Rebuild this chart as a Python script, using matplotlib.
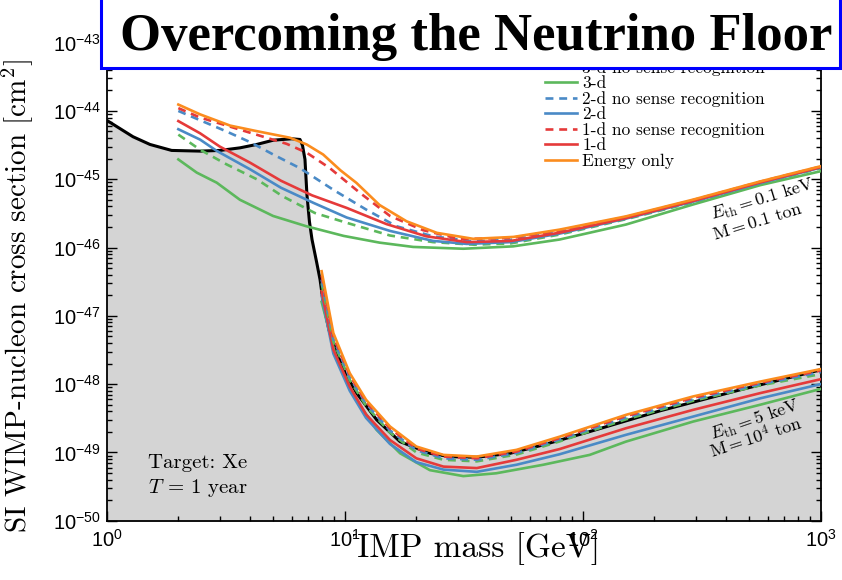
import numpy as np
import matplotlib.pyplot as plt
from matplotlib.patches import Rectangle
from matplotlib.lines import Line2D
from matplotlib.ticker import FuncFormatter, LogLocator, NullFormatter

# sans-serif tick numbers, Computer Modern everywhere else (via math_fontfamily='cm')
plt.rcParams['mathtext.fontset'] = 'custom'
plt.rcParams['mathtext.rm'] = 'Liberation Sans'
plt.rcParams['mathtext.it'] = 'Liberation Sans:italic'
plt.rcParams['mathtext.bf'] = 'Liberation Sans:bold'
plt.rcParams['font.family'] = 'Liberation Sans'

# neutrino floor (black line, grey region below it)
floor_mass = [1.0, 1.29, 1.52, 1.875, 2.47, 2.99, 3.63, 4.27, 5.01, 5.99, 6.49, 6.65, 6.81,
              6.94, 7.11, 7.29, 7.63, 7.88, 8.13, 8.59, 9.25, 10.13, 11.23, 13.63, 17.08,
              22.8, 27.7, 35.9, 49.5, 68.3, 107, 211, 458, 1000]
floor_sigma = [7.3e-45, 4.19e-45, 3.23e-45, 2.64e-45, 2.58e-45, 2.64e-45, 2.88e-45, 3.23e-45,
               3.73e-45, 3.91e-45, 3.82e-45, 3.12e-45, 1.95e-45, 5.97e-46, 2.4e-46, 1.31e-46,
               6.0e-47, 3.39e-47, 1.54e-47, 6.25e-48, 2.85e-48, 1.37e-48, 7.38e-49, 3.0e-49,
               1.44e-49, 9.7e-50, 8.67e-50, 8.5e-50, 9.7e-50, 1.29e-49, 2.02e-49, 4.06e-49,
               8.24e-49, 1.62e-48]

# E_th = 0.1 keV, M = 0.1 ton
hi_energy_m = [2.0, 2.47, 3.3, 4.27, 5.89, 6.92, 8.12, 9.6, 11.2, 14.0, 18.2, 24.4, 34.7, 51.2,
               80, 152, 291, 558, 1000]
hi_energy_s = [1.24e-44, 8.9e-45, 6.1e-45, 5.06e-45, 4.05e-45, 3.23e-45, 2.3e-45, 1.35e-45,
               8.85e-46, 4.2e-46, 2.42e-46, 1.64e-46, 1.34e-46, 1.43e-46, 1.83e-46, 2.86e-46,
               5.03e-46, 9.3e-46, 1.55e-45]
hi_1d_ns_m = [2.0, 2.47, 4.0, 5.7, 6.92, 8.67, 11.6, 15.5, 21.3, 30.5, 50, 80, 152, 291, 558, 1000]
hi_1d_ns_s = [1.1e-44, 8.0e-45, 4.8e-45, 3.3e-45, 2.45e-45, 1.45e-45, 6.3e-46, 2.9e-46, 1.8e-46,
              1.33e-46, 1.38e-46, 1.78e-46, 2.8e-46, 4.95e-46, 9.2e-46, 1.53e-45]
hi_1d_m = [2.0, 2.47, 2.99, 4.0, 5.4, 7.3, 10.2, 15.0, 22.0, 32.6, 50, 80, 152, 291, 558, 1000]
hi_1d_s = [7.1e-45, 4.7e-45, 3.0e-45, 1.75e-45, 9.5e-46, 5.8e-46, 3.8e-46, 2.2e-46, 1.46e-46,
           1.2e-46, 1.25e-46, 1.65e-46, 2.7e-46, 4.8e-46, 9.0e-46, 1.5e-45]
hi_2d_ns_m = [2.0, 2.47, 3.19, 4.0, 5.01, 6.49, 8.96, 12.3, 16.5, 23.5, 34.7, 50, 80, 152, 291,
              558, 1000]
hi_2d_ns_s = [1.0e-44, 7.3e-45, 5.0e-45, 3.5e-45, 2.3e-45, 1.45e-45, 7.0e-46, 3.6e-46, 2.05e-46,
              1.46e-46, 1.23e-46, 1.3e-46, 1.7e-46, 2.75e-46, 4.85e-46, 9.0e-46, 1.5e-45]
hi_2d_m = [2.0, 2.47, 2.9, 4.0, 5.4, 7.4, 10.2, 15.5, 23.5, 32.6, 50, 80, 152, 291, 558, 1000]
hi_2d_s = [5.4e-45, 3.8e-45, 2.6e-45, 1.4e-45, 7.5e-46, 4.5e-46, 2.75e-46, 1.75e-46, 1.25e-46,
           1.13e-46, 1.2e-46, 1.6e-46, 2.65e-46, 4.7e-46, 8.8e-46, 1.48e-45]
hi_3d_ns_m = [2.0, 2.47, 3.19, 4.27, 5.5, 7.5, 10.2, 15.5, 23.5, 35, 50, 80, 152, 291, 558, 1000]
hi_3d_ns_s = [4.5e-45, 2.7e-45, 1.65e-45, 1.0e-45, 5.6e-46, 3.2e-46, 2.3e-46, 1.5e-46, 1.2e-46,
              1.1e-46, 1.15e-46, 1.55e-46, 2.6e-46, 4.6e-46, 8.7e-46, 1.45e-45]
hi_3d_m = [2.0, 2.39, 2.9, 3.63, 5.0, 6.9, 9.9, 14.0, 19.4, 31.5, 51, 80, 152, 291, 558, 1000]
hi_3d_s = [1.95e-45, 1.25e-45, 8.9e-46, 5.0e-46, 2.9e-46, 2.05e-46, 1.48e-46, 1.18e-46, 1.02e-46,
           9.6e-47, 1.04e-46, 1.31e-46, 2.17e-46, 4.27e-46, 8.2e-46, 1.31e-45]

# E_th = 5 keV, M = 10^4 ton
lo_m = [8.0, 8.96, 10.5, 12.3, 15.5, 20.0, 26.0, 35.9, 52.7, 80, 152, 291, 558, 1000]
lo_energy_s = [4.5e-47, 5.6e-48, 1.45e-48, 5.9e-49, 2.4e-49, 1.22e-49, 9.2e-50, 8.7e-50, 1.09e-49,
               1.7e-49, 3.55e-49, 6.6e-49, 1.09e-48, 1.66e-48]
lo_1d_ns_s = [3.9e-47, 5.0e-48, 1.35e-48, 5.5e-49, 2.25e-49, 1.14e-49, 8.7e-50, 8.2e-50, 1.03e-49,
              1.62e-49, 3.4e-49, 6.3e-49, 1.05e-48, 1.58e-48]
lo_1d_s = [2.3e-47, 3.2e-48, 9.2e-49, 3.6e-49, 1.52e-49, 8.2e-50, 6.2e-50, 5.9e-50, 7.8e-50,
           1.12e-49, 2.26e-49, 4.2e-49, 7.4e-49, 1.18e-48]
lo_2d_ns_s = [3.4e-47, 4.6e-48, 1.25e-48, 5.2e-49, 2.1e-49, 1.08e-49, 8.2e-50, 7.8e-50, 9.8e-50,
              1.55e-49, 3.25e-49, 6.0e-49, 1.0e-48, 1.5e-48]
lo_2d_s = [2.0e-47, 2.8e-48, 8.0e-49, 3.2e-49, 1.33e-49, 7.2e-50, 5.6e-50, 5.2e-50, 6.6e-50,
           9.4e-50, 1.81e-49, 3.35e-49, 6.2e-49, 1.0e-48]
lo_3d_ns_s = [3.0e-47, 4.2e-48, 1.15e-48, 4.8e-49, 1.95e-49, 1.0e-49, 7.8e-50, 7.4e-50, 9.3e-50,
              1.45e-49, 3.05e-49, 5.7e-49, 9.6e-49, 1.4e-48]
lo_3d_m = [8.0, 9.25, 11.2, 13.6, 17.1, 22.8, 31.5, 43.3, 68.3, 107, 152, 291, 558, 1000]
lo_3d_s = [1.6e-47, 2.3e-48, 5.9e-49, 2.15e-49, 9.7e-50, 5.5e-50, 4.5e-50, 4.95e-50, 6.6e-50,
           9.2e-50, 1.44e-49, 2.83e-49, 5.0e-49, 8.5e-49]

x_ticks = [1, 10, 100, 1000]
y_ticks = [1e-50, 1e-49, 1e-48, 1e-47, 1e-46, 1e-45, 1e-44, 1e-43]

green = '#5cb85c'
blue = '#4a8ac6'
red = '#e53a3a'
orange = '#fb8c1e'

fig = plt.figure(figsize=(8.42, 5.8), dpi=100)
ax = fig.add_axes([0.1267, 0.1022, 0.848, 0.8243])

ax.fill_between(floor_mass, floor_sigma, 1e-52, color='#d4d4d4', lw=0, zorder=0)
ax.plot(floor_mass, floor_sigma, color='black', lw=2.2, zorder=2)

lw = 1.9
dash = (0, (3.0, 2.2))
ax.plot(hi_3d_m, hi_3d_s, color=green, lw=lw, zorder=3)
ax.plot(hi_3d_ns_m, hi_3d_ns_s, color=green, lw=lw, ls=dash, zorder=3)
ax.plot(hi_2d_m, hi_2d_s, color=blue, lw=lw, zorder=3)
ax.plot(hi_2d_ns_m, hi_2d_ns_s, color=blue, lw=lw, ls=dash, zorder=3)
ax.plot(hi_1d_m, hi_1d_s, color=red, lw=lw, zorder=3)
ax.plot(hi_1d_ns_m, hi_1d_ns_s, color=red, lw=lw, ls=dash, zorder=3)
ax.plot(hi_energy_m, hi_energy_s, color=orange, lw=lw, zorder=3)

ax.plot(lo_3d_m, lo_3d_s, color=green, lw=lw, zorder=3)
ax.plot(lo_m, lo_2d_s, color=blue, lw=lw, zorder=3)
ax.plot(lo_m, lo_1d_s, color=red, lw=lw, zorder=3)
ax.plot(lo_m, lo_3d_ns_s, color=green, lw=lw, ls=dash, zorder=3)
ax.plot(lo_m, lo_2d_ns_s, color=blue, lw=lw, ls=dash, zorder=3)
ax.plot(lo_m, lo_1d_ns_s, color=red, lw=lw, ls=dash, zorder=3)
ax.plot(lo_m, lo_energy_s, color=orange, lw=lw, zorder=3)

ax.set_xscale('log')
ax.set_yscale('log')
ax.set_xlim(1, 1000)
ax.set_ylim(1e-50, 1e-43)
ax.set_xticks(x_ticks)
ax.set_yticks(y_ticks)

def pow_label(v, pos):
    return r'$\mathrm{10^{%d}}$' % int(round(np.log10(v)))

for axis in (ax.xaxis, ax.yaxis):
    axis.set_minor_locator(LogLocator(base=10, subs=np.arange(2, 10), numticks=20))
    axis.set_major_formatter(FuncFormatter(pow_label))
    axis.set_minor_formatter(NullFormatter())

ax.tick_params(which='both', direction='in', top=True, right=True, width=1.0, labelsize=14.5)
ax.tick_params(which='major', length=7)
ax.tick_params(which='minor', length=3.5)
ax.tick_params(axis='x', pad=6)
ax.tick_params(axis='y', pad=4)
for s in ax.spines.values():
    s.set_linewidth(1.3)

ax.set_ylabel('SI WIMP-nucleon cross section [$\\mathrm{cm}^2$]', family='cmr10', fontsize=21,
              math_fontfamily='cm')
ax.yaxis.set_label_coords(-0.1, 0.47)

# x title sits under the axes; its first letter is hidden behind a white block
fig.text(0.548, 1 - 557 / 580, 'WIMP mass [GeV]', family='cmr10', fontsize=24,
         ha='center', va='baseline', zorder=-1)
fig.patches.append(Rectangle((315 / 842, 1 - 570 / 580), 38 / 842, 42 / 580,
                             transform=fig.transFigure, facecolor='white', lw=0, zorder=-0.5))

ax.text(0.058, 0.110, 'Target: Xe', transform=ax.transAxes, family='cmr10', fontsize=15)
ax.text(0.058, 0.058, '$T$ = 1 year', transform=ax.transAxes, family='cmr10', fontsize=15,
        math_fontfamily='cm')

note = dict(rotation_mode='anchor', fontsize=13, zorder=4, math_fontfamily='cm')
ax.text(352, 2.5e-46, r'$E_{\rm th} = 0.1\ \mathrm{keV}$', rotation=17, **note)
ax.text(357, 1.28e-46, r'$\mathrm{M} = 0.1\ \mathrm{ton}$', rotation=17, **note)
ax.text(349, 1.5e-49, r'$E_{\rm th} = 5\ \mathrm{keV}$', rotation=19, **note)
ax.text(349, 8.2e-50, r'$\mathrm{M} = 10^4\ \mathrm{ton}$', rotation=18, **note)

handles = [
    Line2D([], [], color=green, lw=lw, ls=dash, label='3-d no sense recognition'),
    Line2D([], [], color=green, lw=lw, label='3-d'),
    Line2D([], [], color=blue, lw=lw, ls=dash, label='2-d no sense recognition'),
    Line2D([], [], color=blue, lw=lw, label='2-d'),
    Line2D([], [], color=red, lw=lw, ls=dash, label='1-d no sense recognition'),
    Line2D([], [], color=red, lw=lw, label='1-d'),
    Line2D([], [], color=orange, lw=lw, label='Energy only'),
]
ax.legend(handles=handles, loc='upper left', bbox_to_anchor=(545 / 842, 1 - 60 / 580),
          bbox_transform=fig.transFigure, frameon=False, borderpad=0, borderaxespad=0,
          prop={'family': 'cmr10', 'size': 12.5}, labelspacing=0.0, handlelength=1.85,
          handletextpad=0.3)

# title banner
fig.patches.append(Rectangle((101 / 842, 1 - 68 / 580), 739 / 842, 0.2,
                             transform=fig.transFigure, facecolor='white',
                             edgecolor='#0000ff', lw=2.2, zorder=1))
fig.text(0.566, 1 - 50 / 580, 'Overcoming the Neutrino Floor', family='Liberation Serif',
         fontsize=38, fontweight='bold', ha='center', va='baseline', zorder=5)

fig.savefig('out.png', dpi=100)
